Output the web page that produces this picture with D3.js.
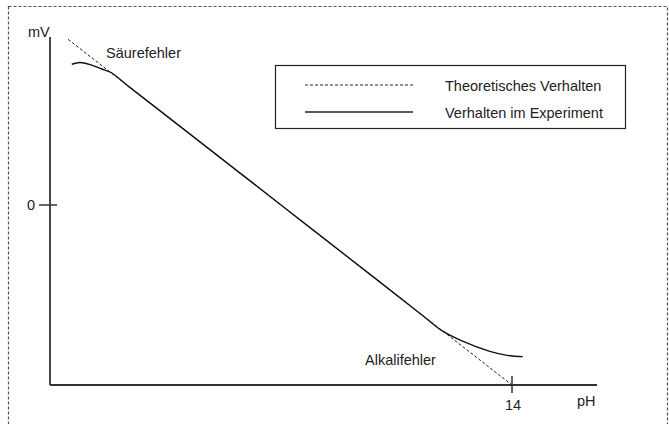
<!DOCTYPE html>
<html>
<head>
<meta charset="utf-8">
<script src="https://cdn.jsdelivr.net/npm/d3@7"></script>
<style>
  body { margin: 0; background: #fff; }
  text { font-family: "Liberation Sans", Arial, sans-serif; fill: #222; }
</style>
</head>
<body>
<svg id="chart" width="669" height="424"></svg>
<script>
// theoretical (Nernst) line, pH vs mV
var theoryPH = [0.55, 14];
var theoryMV = [380, -413];

// measured curve, with acid error and alkaline error
var expPH = [0.66, 0.91, 1.26, 1.57, 1.85, 2.4, 4, 7, 10, 11.3, 11.85, 12.52, 13.33, 13.85, 14.33];
var expMV = [323, 327, 321, 312, 304, 271, 177, 0, -177, -254, -287, -313, -336, -345, -348];

var xTicks = [14];
var yTicks = [0];

var legendLabels = ["Theoretisches Verhalten", "Verhalten im Experiment"];

var svg = d3.select("#chart");

// dashed frame round the whole figure
svg.append("rect")
  .attr("x", 8.5).attr("y", 6.5)
  .attr("width", 659).attr("height", 440)
  .attr("fill", "none")
  .attr("stroke", "#555")
  .attr("stroke-width", 1.2)
  .attr("stroke-dasharray", "3,2");

var x = d3.scaleLinear().domain([0, 14]).range([50, 512]);
var y = d3.scaleLinear().domain([-413, 413]).range([385, 25]);

// axes
svg.append("line")
  .attr("x1", 50).attr("x2", 50).attr("y1", 37).attr("y2", 385)
  .attr("stroke", "#333").attr("stroke-width", 1.8);
svg.append("line")
  .attr("x1", 50).attr("x2", 597).attr("y1", 385).attr("y2", 385)
  .attr("stroke", "#333").attr("stroke-width", 1.8);

svg.selectAll(".xtick").data(xTicks).enter().append("line")
  .attr("class", "xtick")
  .attr("x1", d => x(d)).attr("x2", d => x(d))
  .attr("y1", 376).attr("y2", 393)
  .attr("stroke", "#333").attr("stroke-width", 1.5);
svg.selectAll(".xlab").data(xTicks).enter().append("text")
  .attr("class", "xlab")
  .attr("x", d => x(d) + 1).attr("y", 410)
  .attr("text-anchor", "middle")
  .style("font-size", "14.5px")
  .text(d => d);

svg.selectAll(".ytick").data(yTicks).enter().append("line")
  .attr("class", "ytick")
  .attr("x1", 39).attr("x2", 57)
  .attr("y1", d => y(d)).attr("y2", d => y(d))
  .attr("stroke", "#333").attr("stroke-width", 1.5);
svg.selectAll(".ylab").data(yTicks).enter().append("text")
  .attr("class", "ylab")
  .attr("x", 35).attr("y", d => y(d) + 5)
  .attr("text-anchor", "end")
  .style("font-size", "14.5px")
  .text(d => d);

svg.append("text").attr("x", 28).attr("y", 37)
  .style("font-size", "14.5px").text("mV");
svg.append("text").attr("x", 577).attr("y", 406)
  .style("font-size", "14.5px").text("pH");

// theory line
var line = d3.line().x(d => x(d[0])).y(d => y(d[1]));
svg.append("path")
  .datum(d3.zip(theoryPH, theoryMV))
  .attr("d", line)
  .attr("fill", "none")
  .attr("stroke", "#222")
  .attr("stroke-width", 1)
  .attr("stroke-dasharray", "3,2");

// experiment curve
var curve = d3.line().x(d => x(d[0])).y(d => y(d[1])).curve(d3.curveCatmullRom.alpha(0.5));
svg.append("path")
  .datum(d3.zip(expPH, expMV))
  .attr("d", curve)
  .attr("fill", "none")
  .attr("stroke", "#111")
  .attr("stroke-width", 1.4);

// annotations
svg.append("text").attr("x", 106).attr("y", 58)
  .style("font-size", "14.5px").text("Säurefehler");
svg.append("text").attr("x", 365).attr("y", 365)
  .style("font-size", "14.5px").text("Alkalifehler");

// legend
svg.append("rect")
  .attr("x", 275.5).attr("y", 65.5)
  .attr("width", 350).attr("height", 63)
  .attr("fill", "#fff")
  .attr("stroke", "#222").attr("stroke-width", 1.2);

var legend = svg.selectAll(".leg").data(legendLabels).enter().append("g")
  .attr("class", "leg")
  .attr("transform", (d, i) => "translate(0," + (85 + i * 27) + ")");
legend.append("line")
  .attr("x1", 305).attr("x2", 413).attr("y1", 0).attr("y2", 0)
  .attr("stroke", "#222")
  .attr("stroke-width", (d, i) => i == 0 ? 1 : 1.4)
  .attr("stroke-dasharray", (d, i) => i == 0 ? "3,2" : null);
legend.append("text")
  .attr("x", 445).attr("y", 6)
  .style("font-size", "14.5px")
  .text(d => d);
</script>
</body>
</html>
